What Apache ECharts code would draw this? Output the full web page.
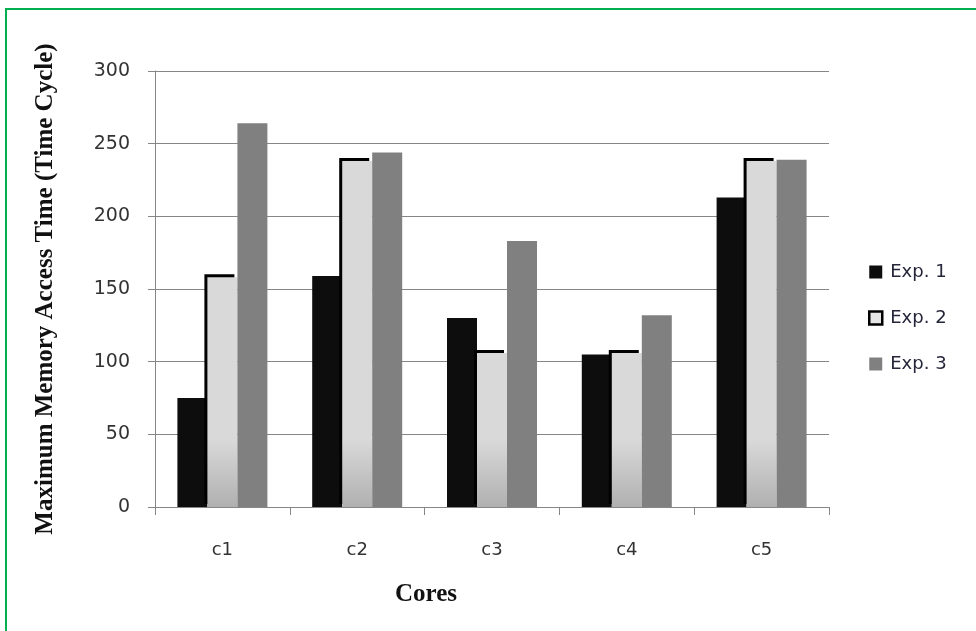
<!DOCTYPE html>
<html>
<head>
<meta charset="utf-8">
<script src="https://cdn.jsdelivr.net/npm/echarts@6/dist/echarts.min.js"></script>
<style>
html,body{margin:0;padding:0;background:#fff;}
#chart{width:976px;height:631px;}
</style>
</head>
<body>
<div id="chart"></div>
<script>
var categories = ['c1', 'c2', 'c3', 'c4', 'c5'];
var exp1 = [75, 159, 130, 105, 213];
var exp2 = [158, 238, 106, 106, 238];
var exp3 = [264, 244, 183, 132, 239];
var seriesNames = ['Exp. 1', 'Exp. 2', 'Exp. 3'];
var yTicks = {min: 0, max: 300, interval: 50};
var yTitle = 'Maximum Memory Access Time (Time Cycle)';
var xTitle = 'Cores';

var chart = echarts.init(document.getElementById('chart'), null, {renderer: 'canvas'});
var green = '#00b050';
var lightGrad = new echarts.graphic.LinearGradient(0, 440, 0, 507, [
  {offset: 0, color: '#d9d9d9'},
  {offset: 1, color: '#b0b0b0'}
], true);

var option = {
  animation: false,
  backgroundColor: '#ffffff',
  grid: {left: 155, right: 147, top: 71, bottom: 124, containLabel: false},
  legend: {
    orient: 'vertical',
    left: 868,
    top: 263,
    padding: 0,
    itemWidth: 13,
    itemHeight: 13,
    itemGap: 28,
    textStyle: {fontFamily: 'DejaVu Sans', fontSize: 18, color: '#26263a', lineHeight: 18, padding: [0, 0, 0, 3]},
    data: [
      {name: seriesNames[0], icon: 'rect', itemStyle: {color: '#0d0d0d', shadowColor: 'transparent', shadowOffsetX: 0, shadowOffsetY: 0}},
      {name: seriesNames[1], icon: 'rect', itemStyle: {color: '#e6e6e6', borderColor: '#000', borderWidth: 2.5, shadowColor: 'transparent', shadowOffsetX: 0, shadowOffsetY: 0}},
      {name: seriesNames[2], icon: 'rect', itemStyle: {color: '#808080', shadowColor: 'transparent', shadowOffsetX: 0, shadowOffsetY: 0}}
    ]
  },
  xAxis: {
    type: 'category',
    data: categories,
    axisLine: {lineStyle: {color: '#868686', width: 1}},
    axisTick: {show: true, length: 8, lineStyle: {color: '#868686'}},
    axisLabel: {fontFamily: 'DejaVu Sans', fontSize: 18, color: '#333', margin: 34}
  },
  yAxis: {
    type: 'value',
    min: yTicks.min,
    max: yTicks.max,
    interval: yTicks.interval,
    name: yTitle,
    nameLocation: 'middle',
    nameRotate: 90,
    nameGap: 97,
    nameTextStyle: {fontFamily: 'Liberation Serif', fontWeight: 'bold', fontSize: 25, color: '#111'},
    axisLine: {show: true, lineStyle: {color: '#868686', width: 1}},
    axisTick: {show: true, length: 7, lineStyle: {color: '#868686'}},
    axisLabel: {fontFamily: 'DejaVu Sans', fontSize: 19, color: '#333', margin: 25},
    splitLine: {show: true, lineStyle: {color: '#868686', width: 1}}
  },
  series: [
    {
      name: seriesNames[0], type: 'bar', data: exp1, barWidth: 30, barGap: '0%',
      itemStyle: {color: '#0d0d0d'}
    },
    {
      name: seriesNames[1], type: 'bar', data: exp2, barWidth: 30, barGap: '0%',
      itemStyle: {color: lightGrad, shadowColor: '#000', shadowBlur: 0, shadowOffsetX: -3, shadowOffsetY: -3}
    },
    {
      name: seriesNames[2], type: 'bar', data: exp3, barWidth: 30, barGap: '0%',
      itemStyle: {color: '#808080'}
    }
  ],
  graphic: [
    {type: 'line', shape: {x1: 5, y1: 9, x2: 976, y2: 9}, style: {stroke: green, lineWidth: 2}, silent: true},
    {type: 'line', shape: {x1: 6, y1: 8, x2: 6, y2: 631}, style: {stroke: green, lineWidth: 2}, silent: true},
    {type: 'text', left: 395, top: 582, style: {text: xTitle, font: 'bold 25px "Liberation Serif"', fill: '#111'}, silent: true}
  ]
};
chart.setOption(option);
</script>
</body>
</html>
